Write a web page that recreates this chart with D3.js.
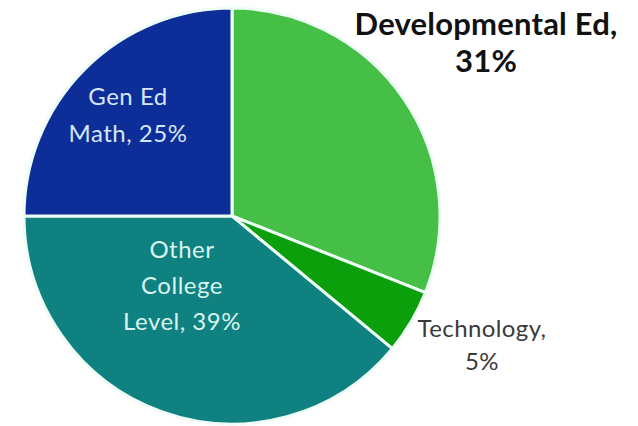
<!DOCTYPE html>
<html>
<head>
<meta charset="utf-8">
<script src="https://cdn.jsdelivr.net/npm/d3@7/dist/d3.min.js"></script>
<style>
  html, body { margin: 0; padding: 0; background: #ffffff; }
  svg { display: block; }
</style>
</head>
<body>
<svg id="chart" width="638" height="426"></svg>
<script>
// Share of courses by category (percent), clockwise from 12 o'clock
const categories = ["Developmental Ed", "Technology", "Other College Level", "Gen Ed Math"];
const shares = [31, 5, 39, 25];
const labelLines = [
  ["Developmental Ed,", "31%"],
  ["Technology,", "5%"],
  ["Other", "College", "Level, 39%"],
  ["Gen Ed", "Math, 25%"]
];
const colors = ["#45bf45", "#0c9f0c", "#0f8181", "#0d2d99"];

const svg = d3.select("#chart");
const cx = 232, cy = 216, r = 208;

const pie = d3.pie().sort(null).value(d => d.value);
const arc = d3.arc().innerRadius(0).outerRadius(r);
const data = categories.map((c, i) => ({ name: c, value: shares[i], color: colors[i], lines: labelLines[i] }));
const arcs = pie(data);

const g = svg.append("g").attr("transform", `translate(${cx},${cy})`);
g.selectAll("path")
  .data(arcs)
  .enter().append("path")
  .attr("d", arc)
  .attr("fill", d => d.data.color)
  .attr("stroke", "#eefdf6")
  .attr("stroke-width", 3)
  .attr("stroke-linejoin", "round");

// label placement: centre x, first baseline, line height, font size, weight, colour
const labelStyle = [
  { x: 486, y: 35, lh: 37, size: 31, ls: 0.2, weight: 700, fill: "#111111" },
  { x: 482, y: 337, lh: 33, size: 24, ls: 0.4, weight: 400, fill: "#3a3a3a" },
  { x: 182, y: 258, lh: 36, size: 24, ls: 0.5, weight: 400, fill: "#d9f4ee" },
  { x: 128, y: 105, lh: 37, size: 24, ls: 0.5, weight: 400, fill: "#d4e6f7" }
];

const labels = svg.append("g")
  .attr("font-family", "Lato, 'Open Sans', sans-serif")
  .attr("text-anchor", "middle");

arcs.forEach((a, i) => {
  const s = labelStyle[i];
  const t = labels.append("text")
    .attr("x", s.x)
    .attr("y", s.y)
    .attr("font-size", s.size)
    .attr("font-weight", s.weight)
    .attr("letter-spacing", s.ls)
    .attr("fill", s.fill);
  a.data.lines.forEach((line, k) => {
    t.append("tspan")
      .attr("x", s.x)
      .attr("dy", k === 0 ? 0 : s.lh)
      .text(line);
  });
});
</script>
</body>
</html>
